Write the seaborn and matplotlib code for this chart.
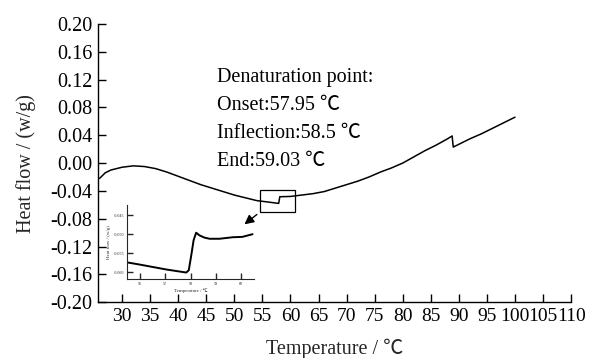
import matplotlib
matplotlib.use("Agg")
import matplotlib.pyplot as plt
import seaborn as sns
import pandas as pd
from matplotlib.patches import Rectangle

# ---- data ----
main_temp = [26, 27, 28, 30, 32, 34, 36, 38, 40, 42, 44, 46, 48, 50, 52, 54, 56, 57.9,
             58.1, 60, 62, 64, 66, 68, 70, 72, 74, 76, 78, 80, 82, 84, 86, 88, 88.8,
             89.0, 90, 92, 94, 96, 98, 100]
main_flow = [-0.022, -0.014, -0.010, -0.006, -0.004, -0.005, -0.008, -0.013, -0.019, -0.025,
             -0.031, -0.036, -0.041, -0.046, -0.050, -0.054, -0.056, -0.058,
             -0.0484, -0.048, -0.046, -0.044, -0.041, -0.036, -0.031, -0.026, -0.020,
             -0.013, -0.007, 0.000, 0.009, 0.018, 0.026, 0.035, 0.039,
             0.023, 0.027, 0.035, 0.042, 0.050, 0.058, 0.066]

inset_temp = [55.48, 56.0, 57.05, 57.83, 57.93, 58.03, 58.12, 58.22, 58.35, 58.55, 58.75,
              59.14, 59.66, 60.04, 60.44]
inset_flow = [-0.0574, -0.0580, -0.0593, -0.0601, -0.0595, -0.0555, -0.0516, -0.0496,
              -0.0503, -0.0509, -0.0512, -0.0512, -0.0508, -0.0507, -0.0500]

x_ticks = [30, 35, 40, 45, 50, 55, 60, 65, 70, 75, 80, 85, 90, 95, 100, 105, 110]
y_ticks = [-0.20, -0.16, -0.12, -0.08, -0.04, 0.00, 0.04, 0.08, 0.12, 0.16, 0.20]
inset_x_ticks = [56, 57, 58, 59, 60]
inset_y_ticks = [-0.060, -0.055, -0.050, -0.045]

annot_lines = ["Denaturation point:", "Onset:57.95 \u2103", "Inflection:58.5 \u2103", "End:59.03 \u2103"]

sns.set_style("ticks")
plt.rcParams['font.family'] = ['Liberation Serif', 'Noto Sans CJK SC', 'DejaVu Serif']
plt.rcParams['axes.unicode_minus'] = False

FS = 14.5
fig = plt.figure(figsize=(5.9, 3.58), dpi=100)
ax = fig.add_axes([0.166, 0.156, 0.802, 0.777])

df = pd.DataFrame({"t": main_temp, "h": main_flow})
sns.lineplot(data=df, x="t", y="h", ax=ax, color="black", linewidth=1.1, sort=False)

ax.set_xlim(25.7, 110)
ax.set_ylim(-0.20, 0.20)
ax.set_xticks(x_ticks)
ax.set_xticklabels([str(v) for v in x_ticks])
ax.set_yticks(y_ticks)
ax.set_yticklabels([f"{v:.2f}" for v in y_ticks])
ax.tick_params(direction="in", length=6, width=1, labelsize=FS, colors="black", pad=4)
ax.tick_params(axis="x", labelsize=14)
ax.spines["top"].set_visible(False)
ax.spines["right"].set_visible(False)
for s in ["left", "bottom"]:
    ax.spines[s].set_color("black")
    ax.spines[s].set_linewidth(1)
ax.set_xlabel("Temperature / \u2103", fontsize=FS, labelpad=10)
ax.set_ylabel("Heat flow / (w/g)", fontsize=FS, labelpad=10)

for i, line in enumerate(annot_lines):
    ax.text(0.2516, 0.809 - i * 0.1017, line, transform=ax.transAxes, fontsize=FS,
            ha="left", va="center", color="black")

# zoom box
ax.add_patch(Rectangle((54.6, -0.0705), 6.2, 0.0316, fill=False, edgecolor="black", linewidth=0.9))
ax.annotate("", xy=(51.4, -0.0906), xytext=(54.4, -0.0715),
            arrowprops=dict(arrowstyle="-|>", color="black", lw=1, mutation_scale=14))

# inset
axi = fig.add_axes([0.2153, 0.2207, 0.2153, 0.2067])
dfi = pd.DataFrame({"t": inset_temp, "h": inset_flow})
sns.lineplot(data=dfi, x="t", y="h", ax=axi, color="black", linewidth=1.4, sort=False)
axi.set_xlim(55.5, 60.5)
axi.set_ylim(-0.0618, -0.0423)
axi.set_xticks(inset_x_ticks)
axi.set_xticklabels([str(v) for v in inset_x_ticks])
axi.set_yticks(inset_y_ticks)
axi.set_yticklabels([f"{v:.3f}" for v in inset_y_ticks])
axi.tick_params(direction="in", length=4, width=1, labelsize=3, pad=2)
axi.spines["top"].set_visible(False)
axi.spines["right"].set_visible(False)
axi.patch.set_alpha(0)
axi.set_xlabel("Temperature / \u2103", fontsize=3.5, labelpad=2)
axi.set_ylabel("Heat flow / (w/g)", fontsize=3.5, labelpad=2)

fig.savefig("out.png", dpi=100)
